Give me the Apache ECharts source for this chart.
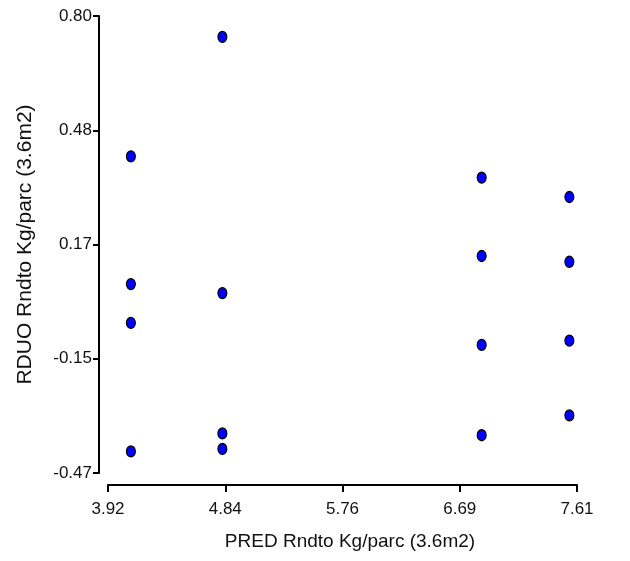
<!DOCTYPE html>
<html>
<head>
<meta charset="utf-8">
<title>RDUO vs PRED</title>
<script src="https://cdn.jsdelivr.net/npm/echarts@6/dist/echarts.min.js"></script>
<style>
  html, body { margin: 0; padding: 0; background: #fff; }
  #chart { width: 630px; height: 561px; }
</style>
</head>
<body>
<div id="chart"></div>
<script>
// predicted values (x) for each point
const predValues = [
  4.10, 4.10, 4.10, 4.10,
  4.82, 4.82, 4.82, 4.82,
  6.86, 6.86, 6.86, 6.86,
  7.55, 7.55, 7.55, 7.55
]
// residuals (y) for each point
const residValues = [
  0.41, 0.055, -0.053, -0.41,
  0.742, 0.03, -0.36, -0.403,
  0.351, 0.133, -0.114, -0.365,
  0.297, 0.117, -0.102, -0.31
]
// tick positions and the labels printed on them
const xTickValues = [3.92, 4.8425, 5.765, 6.6875, 7.61]
const xTickLabels = ['3.92', '4.84', '5.76', '6.69', '7.61']
const yTickValues = [-0.47, -0.1525, 0.165, 0.4825, 0.80]
const yTickLabels = ['-0.47', '-0.15', '0.17', '0.48', '0.80']

const FONT = 'Liberation Sans, Arial, sans-serif'

function labelFor(values, labels, v) {
  let best = 0
  values.forEach((t, i) => {
    if (Math.abs(t - v) < Math.abs(values[best] - v)) best = i
  })
  return labels[best]
}

const points = predValues.map((x, i) => [x, residValues[i]])

const chart = echarts.init(document.getElementById('chart'))
chart.setOption({
  animation: false,
  grid: {
    left: 108,
    right: 53,
    top: 16,
    bottom: 88
  },
  xAxis: {
    type: 'value',
    min: 3.92,
    max: 7.61,
    offset: 12,
    name: 'PRED Rndto Kg/parc (3.6m2)',
    nameLocation: 'middle',
    nameGap: 47,
    nameTextStyle: {
      fontFamily: FONT,
      fontSize: 19,
      color: '#111',
      padding: [0, 0, 0, 15]
    },
    axisLine: { onZero: false, lineStyle: { color: '#000', width: 2 } },
    axisTick: {
      customValues: xTickValues,
      length: 7,
      lineStyle: { color: '#000', width: 2 }
    },
    axisLabel: {
      customValues: xTickValues,
      margin: 16,
      fontFamily: FONT,
      fontSize: 17,
      color: '#111',
      formatter: v => labelFor(xTickValues, xTickLabels, v)
    },
    splitLine: { show: false }
  },
  yAxis: {
    type: 'value',
    min: -0.47,
    max: 0.80,
    offset: 9,
    name: 'RDUO Rndto Kg/parc (3.6m2)',
    nameLocation: 'middle',
    nameGap: 63,
    nameTextStyle: {
      fontFamily: FONT,
      fontSize: 21,
      color: '#111'
    },
    axisLine: { onZero: false, lineStyle: { color: '#000', width: 2 } },
    axisTick: {
      customValues: yTickValues,
      length: 6,
      lineStyle: { color: '#000', width: 2 }
    },
    axisLabel: {
      customValues: yTickValues,
      margin: 7,
      fontFamily: FONT,
      fontSize: 17,
      color: '#111',
      formatter: v => labelFor(yTickValues, yTickLabels, v)
    },
    splitLine: { show: false }
  },
  series: [
    {
      type: 'scatter',
      data: points,
      symbol: 'circle',
      symbolSize: [9, 11],
      itemStyle: {
        color: '#0000ff',
        borderColor: '#000',
        borderWidth: 1.2,
        opacity: 1
      }
    }
  ]
})
</script>
</body>
</html>
